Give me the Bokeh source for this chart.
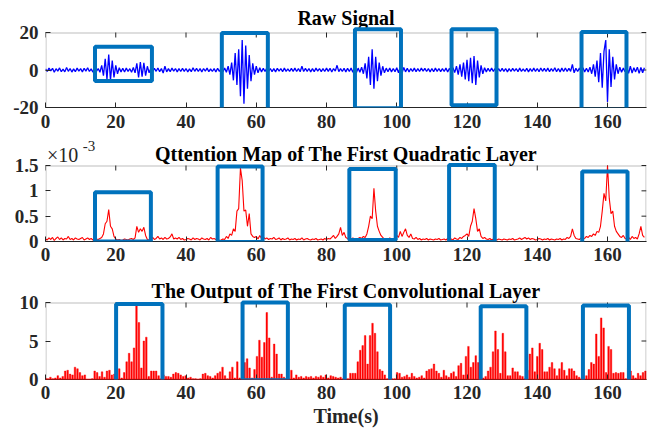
import numpy as np
from bokeh.plotting import figure
from bokeh.layouts import column
from bokeh.models import Range1d, FixedTicker, Label, Span, BoxAnnotation
from bokeh.embed import file_html
from bokeh.resources import INLINE

# ---------------- data ----------------
RAW_DT = 0.5   # s between raw samples
raw_signal = [
    0.6, -0.8, 1.0, -0.5, 0.9, -1.2, 0.7, -0.6, 1.1, -0.9, 0.5, -1.0, 1.3, -0.7, 0.8, -1.1, 0.6, -0.9, 1.0, -0.6,
    0.7, -1.0, 0.9, -0.6, 1.2, -0.8, 0.6, -1.1, 0.9, -0.7, 0.8, -1.2, 2.5, -3.0, 6.0, -5.0, 8.2, -5.5, 5.0, -4.0,
    2.5, -2.0, 1.2, -1.0, 0.9, -1.1, 1.0, -0.8, 0.7, -1.2, 1.3, -1.5, 3.5, -4.0, 4.2, -3.5, 3.8, -3.0, 2.0, -1.5,
    1.0, -0.8, 0.9, -0.7, 1.1, -0.9, 0.8, -1.6, 2.0, -1.0, 0.7, -0.9, 1.0, -0.6, 0.8, -1.0, 0.7, -0.8, 0.9, -0.7,
    0.8, -1.0, 0.6, -0.9, 1.2, -0.7, 0.9, -0.8, 0.7, -1.0, 0.8, -0.6, 1.0, -0.9, 0.6, -0.8, 0.7, -1.0, 0.9, -0.7,
    0.8, -0.9, 1.0, -1.2, 2.0, -2.5, 4.0, -5.5, 9.0, -8.0, 11.0, -14.0, 16.0, -18.0, 13.0, -10.0, 8.0, -6.0, 3.5, -2.5,
    2.0, -1.5, 1.2, -1.0, 0.9, -0.8, 1.0, -0.7, 0.8, -0.9, 0.7, -1.0, 0.9, -0.6, 0.8, -0.9, 1.0, -0.7, 0.6, -0.8,
    0.9, -0.7, 1.0, -0.8, 0.7, -0.9, 2.0, -0.8, 0.9, -0.7, 0.8, -1.0, 0.7, -0.9, 1.0, -0.6, 0.8, -0.9, 0.7, -0.8,
    1.0, -0.7, 0.9, -1.1, 0.8, -0.6, 2.5, -0.9, 0.7, -0.8, 0.9, -1.0, 0.9, -0.8, 1.0, -1.2, 1.3, -1.5, 1.0, -1.2,
    1.5, -2.0, 3.5, -4.5, 7.0, -8.0, 11.0, -10.0, 7.0, -6.0, 4.0, -3.0, 2.0, -1.5, 1.0, -0.9, 1.1, -1.0, 0.8, -0.9,
    1.2, -1.5, 1.8, -1.6, 1.3, -1.0, 0.9, -1.1, 0.8, -0.7, 1.0, -0.9, 0.7, -0.8, 1.0, -0.6, 0.9, -0.8, 0.7, -1.0,
    0.8, -0.9, 1.0, -0.7, 0.8, -0.9, 0.7, -0.8, 1.0, -1.1, 0.9, -1.0, 1.2, -1.4, 2.0, -2.5, 3.0, -3.5, 4.0, -5.0,
    5.5, -6.0, 6.5, -7.0, 7.5, -8.0, 5.0, -4.0, 2.5, -2.0, 1.2, -1.0, 0.9, -0.8, 1.0, -0.7, 0.8, -0.9, 0.7, -0.8,
    0.9, -0.7, 0.8, -1.0, 0.7, -0.8, 0.9, -0.6, 0.8, -0.9, 1.0, -0.7, 0.6, -0.8, 0.9, -1.0, 0.7, -0.8, 1.0, -0.7,
    0.8, -0.9, 1.1, -0.7, 0.9, -0.8, 1.0, -0.9, 0.8, -0.7, 1.2, -0.9, 0.8, -1.0, 1.0, -0.8, 1.1, -0.8, 0.9, -0.7,
    3.0, -1.5, 0.9, -0.8, 1.0, -0.7, 1.2, -1.0, 0.9, -1.1, 1.5, -2.0, 3.0, -3.5, 5.0, -6.5, 9.0, -9.5, 10.0, 16.0,
    -17.0, 11.0, -9.0, 7.0, -5.0, 3.0, -2.0, 1.5, -1.2, 1.0, -0.9, 1.4, -1.8, 2.0, -1.6, 1.2, -1.0, 1.5, -1.8, 1.3,
    -1.5, 1.2,
]

ATT_DT = 0.5   # s between attention samples, values in units of 1e-3
attention_e3 = [
    0.05, 0.03, 0.07, 0.04, 0.08, 0.02, 0.06, 0.09, 0.04, 0.07, 0.03, 0.06, 0.05, 0.10, 0.04, 0.06, 0.03, 0.07, 0.05, 0.04,
    0.06, 0.08, 0.03, 0.05, 0.07, 0.04, 0.06, 0.03, 0.08, 0.05, 0.04, 0.06, 0.08, 0.15, 0.35, 0.40, 0.63, 0.30, 0.25, 0.10,
    0.05, 0.03, 0.04, 0.02, 0.03, 0.05, 0.04, 0.03, 0.05, 0.06, 0.04, 0.07, 0.30, 0.18, 0.25, 0.20, 0.28, 0.12, 0.04, 0.03,
    0.05, 0.08, 0.04, 0.06, 0.10, 0.05, 0.07, 0.04, 0.08, 0.05, 0.06, 0.09, 0.15, 0.05, 0.07, 0.05, 0.08, 0.04, 0.06, 0.03,
    0.04, 0.06, 0.05, 0.03, 0.07, 0.04, 0.06, 0.05, 0.03, 0.07, 0.05, 0.04, 0.06, 0.03, 0.08, 0.05, 0.06, 0.04, 0.05, 0.02,
    0.03, 0.05, 0.04, 0.10, 0.06, 0.15, 0.12, 0.25, 0.20, 0.60, 0.65, 1.45, 1.20, 0.60, 0.62, 0.30, 0.55, 0.15, 0.10, 0.08,
    0.10, 0.05, 0.12, 0.06, 0.09, 0.05, 0.07, 0.04, 0.06, 0.05, 0.08, 0.04, 0.05, 0.07, 0.03, 0.06, 0.04, 0.05, 0.07, 0.03,
    0.05, 0.04, 0.06, 0.03, 0.05, 0.04, 0.07, 0.03, 0.05, 0.06, 0.04, 0.03, 0.05, 0.04, 0.06, 0.03, 0.04, 0.05, 0.03, 0.06,
    0.04, 0.06, 0.05, 0.08, 0.12, 0.06, 0.10, 0.15, 0.28, 0.12, 0.18, 0.08, 0.06, 0.05, 0.04, 0.07, 0.05, 0.04, 0.06, 0.08,
    0.06, 0.10, 0.08, 0.15, 0.30, 0.50, 0.45, 1.05, 0.60, 0.30, 0.20, 0.12, 0.08, 0.05, 0.06, 0.04, 0.07, 0.05, 0.04, 0.06,
    0.12, 0.08, 0.20, 0.10, 0.18, 0.25, 0.12, 0.08, 0.15, 0.06, 0.05, 0.08, 0.04, 0.06, 0.03, 0.05, 0.04, 0.06, 0.03, 0.05,
    0.04, 0.03, 0.05, 0.04, 0.06, 0.03, 0.04, 0.05, 0.03, 0.06, 0.04, 0.05, 0.03, 0.07, 0.05, 0.04, 0.08, 0.06, 0.10, 0.12,
    0.15, 0.10, 0.30, 0.40, 0.65, 0.45, 0.20, 0.25, 0.10, 0.06, 0.08, 0.05, 0.04, 0.06, 0.03, 0.05, 0.04, 0.03, 0.05, 0.04,
    0.03, 0.05, 0.04, 0.03, 0.05, 0.04, 0.06, 0.03, 0.04, 0.05, 0.07, 0.04, 0.06, 0.08, 0.05, 0.07, 0.04, 0.06, 0.05, 0.03,
    0.04, 0.06, 0.05, 0.03, 0.05, 0.04, 0.06, 0.03, 0.05, 0.04, 0.03, 0.05, 0.04, 0.06, 0.03, 0.05, 0.04, 0.08, 0.06, 0.10,
    0.25, 0.12, 0.06, 0.05, 0.04, 0.07, 0.05, 0.06, 0.10, 0.08, 0.12, 0.10, 0.15, 0.12, 0.20, 0.18, 0.30, 0.60, 0.95, 0.80,
    1.50, 0.85, 0.55, 0.60, 0.30, 0.20, 0.15, 0.10, 0.08, 0.12, 0.06, 0.05, 0.08, 0.04, 0.10, 0.06, 0.08, 0.05, 0.15, 0.30,
    0.12, 0.08,
]

CONV_DT = 0.7  # s between convolution outputs
conv_output = [
    0.2, 0.1, 0.3, 0.1, 0.2, 0.5, 0.2, 0.4, 1.1, 1.2,
    0.7, 0.6, 1.6, 1.4, 0.9, 0.5, 0.6, 0.0, 0.0, 0.1,
    1.1, 0.9, 0.4, 1.0, 0.3, 1.1, 1.2, 0.6, 0.7, 0.1,
    1.4, 0.2, 0.9, 2.3, 3.4, 2.3, 4.1, 9.6, 7.4, 1.5,
    5.0, 5.5, 0.4, 1.1, 1.1, 1.1, 0.5, 0.1, 0.6, 0.4,
    0.4, 0.3, 0.7, 0.9, 0.8, 0.6, 0.4, 0.5, 0.2, 0.3,
    0.1, 0.1, 0.0, 0.1, 0.7, 0.8, 0.5, 0.4, 0.2, 0.5,
    0.8, 1.0, 1.6, 0.5, 0.1, 1.0, 1.6, 0.2, 2.3, 0.2,
    0.2, 2.2, 2.7, 1.5, 0.2, 1.3, 3.0, 5.1, 2.9, 4.8,
    8.7, 5.4, 0.3, 4.6, 3.3, 0.7, 0.7, 0.3, 0.1, 0.1,
    1.2, 0.2, 0.6, 0.3, 0.4, 0.2, 0.4, 0.3, 0.4, 0.2,
    0.4, 0.3, 0.5, 0.3, 0.6, 0.2, 0.5, 0.4, 0.3, 0.2,
    0.3, 0.1, 0.1, 0.1, 0.8, 0.8, 0.8, 2.3, 3.8, 4.4,
    5.7, 2.0, 5.7, 7.3, 6.0, 3.6, 1.3, 1.1, 0.6, 0.1,
    0.1, 0.1, 0.1, 0.9, 0.8, 0.3, 0.4, 0.6, 0.3, 0.8,
    0.4, 0.2, 0.3, 0.5, 0.2, 1.1, 1.3, 1.4, 2.0, 1.1,
    0.8, 0.3, 1.2, 0.5, 0.3, 0.8, 1.0, 0.4, 1.8, 2.1,
    0.6, 3.0, 4.3, 1.6, 2.2, 3.1, 2.2, 0.9, 0.2, 0.4,
    1.1, 1.6, 3.6, 6.3, 3.9, 0.8, 6.0, 3.6, 0.5, 0.5,
    1.5, 1.0, 1.0, 0.5, 0.4, 0.1, 1.2, 3.3, 4.1, 1.0,
    3.0, 4.7, 3.9, 1.0, 1.0, 1.6, 2.2, 1.4, 0.5, 1.4,
    2.2, 1.2, 0.5, 1.4, 1.4, 1.1, 0.5, 0.3, 0.1, 0.1,
    0.5, 1.3, 2.2, 2.0, 5.9, 3.0, 8.0, 6.7, 0.9, 4.3,
    3.9, 0.8, 0.9, 0.8, 0.9, 0.9, 0.1, 1.5, 1.1, 0.5,
    0.2, 0.8, 0.5, 0.9, 1.1,
]

x_ticks = [0, 20, 40, 60, 80, 100, 120, 140, 160]
raw_y_ticks = [-20, 0, 20]
raw_y_labels = ["-20", "0", "20"]
att_y_ticks = [0, 0.5, 1, 1.5]
att_y_labels = ["0", "0.5", "1", "1.5"]
conv_y_ticks = [0, 5, 10]
conv_y_labels = ["0", "5", "10"]

titles = ["Raw Signal",
          "Qttention Map of The First Quadratic Layer",
          "The Output of The First Convolutional Layer"]
x_label = "Time(s)"
att_multiplier = "×10"
att_exponent = "-3"

# highlighted regions (left, right, bottom, top) in data units of each panel
raw_box_left = [14.1, 50.2, 88.1, 115.6, 152.6]
raw_box_right = [30.3, 63.3, 101.2, 128.4, 165.4]
raw_box_bottom = [-5.9, -21.3, -20.4, -18.8, -21.0]
raw_box_top = [12.4, 19.7, 21.7, 21.7, 20.3]

att_box_left = [14.1, 49.0, 86.5, 114.9, 152.8]
att_box_right = [30.0, 61.8, 99.7, 127.9, 165.7]
att_box_bottom = [0.0, -0.01, 0.03, -0.01, -0.05]
att_box_top = [0.97, 1.48, 1.43, 1.51, 1.38]

conv_box_left = [20.1, 56.1, 85.2, 123.9, 153.0]
conv_box_right = [33.3, 69.0, 98.1, 136.9, 166.1]
conv_box_bottom = [-0.35, -0.1, -0.56, -0.56, -0.56]
conv_box_top = [9.8, 10.0, 9.7, 9.5, 9.6]

# ---------------- styling / layout ----------------
FONT = "Liberation Serif"
AX_COLOR = "#262626"
BOX_COLOR = "#0072BD"
X_MAX = 171.1
FRAME_W = 601
X_PER_PX = X_MAX / FRAME_W


def make_panel(y0, y1, yticks, ylabels, axes_px, ext_px, bottom_px, title, title_gap_px, tick_standoff):
    """Frame = axes box plus an extension above it (for title / labels)."""
    upp = (y1 - y0) / axes_px
    y_top = y1 + ext_px * upp
    p = figure(title=None, frame_width=FRAME_W, frame_height=axes_px + ext_px,
               x_range=Range1d(0, X_MAX), y_range=Range1d(y0, y_top),
               output_backend="svg", toolbar_location=None,
               min_border_left=45, min_border_right=8,
               min_border_top=0, min_border_bottom=bottom_px)
    p.grid.visible = False
    p.outline_line_color = None
    p.background_fill_color = "white"
    p.border_fill_color = "white"

    xa = p.xaxis[0]
    ya = p.yaxis[0]
    for ax in (xa, ya):
        ax.major_tick_line_color = AX_COLOR
        ax.major_tick_in = 5
        ax.major_tick_out = 0
        ax.minor_tick_line_color = None
        ax.major_label_text_font = FONT
        ax.major_label_text_font_style = "bold"
        ax.major_label_text_font_size = "19px"
        ax.major_label_text_color = AX_COLOR
    xa.axis_line_color = AX_COLOR
    xa.ticker = FixedTicker(ticks=x_ticks)
    xa.major_label_overrides = {t: str(t) for t in x_ticks}
    xa.major_label_standoff = tick_standoff
    ya.axis_line_color = None
    ya.ticker = FixedTicker(ticks=yticks)
    ya.major_label_overrides = {t: s for t, s in zip(yticks, ylabels)}
    ya.major_label_standoff = 7

    # axes box (inside the frame)
    p.add_layout(BoxAnnotation(left=0.5 * X_PER_PX, right=X_MAX - 0.5 * X_PER_PX,
                               bottom=y0, top=y1 - 0.5 * upp,
                               fill_color=None, fill_alpha=0,
                               line_color=AX_COLOR, line_width=1))
    # inward ticks on the top and right edges (MATLAB box style)
    p.segment(x0=x_ticks, x1=x_ticks, y0=[y1] * len(x_ticks),
              y1=[y1 - 5 * upp] * len(x_ticks), line_color=AX_COLOR, line_width=1)
    p.segment(x0=[X_MAX] * len(yticks), x1=[X_MAX - 5 * X_PER_PX] * len(yticks),
              y0=yticks, y1=yticks, line_color=AX_COLOR, line_width=1)

    p.add_layout(Label(x=X_MAX / 2, y=y1 + title_gap_px * upp, text=title,
                       text_align="center", text_baseline="alphabetic",
                       text_font=FONT, text_font_style="bold", text_font_size="20px",
                       text_color="black"))
    return p, upp


def add_boxes(p, lefts, rights, bottoms, tops):
    for l, r, b, t in zip(lefts, rights, bottoms, tops):
        p.add_layout(BoxAnnotation(left=l, right=r, bottom=b, top=t,
                                   fill_alpha=0, fill_color=None,
                                   line_color=BOX_COLOR, line_width=4, line_alpha=1))


# ---- panel 1 : raw signal   (page rows 0-137, axes 32-107)
p1, u1 = make_panel(-20, 20, raw_y_ticks, raw_y_labels, 75, 32, 30, titles[0], 14.8, 7)
raw_t = np.arange(len(raw_signal)) * RAW_DT
p1.line(raw_t, raw_signal, line_color="#0000FF", line_width=1.3)
add_boxes(p1, raw_box_left, raw_box_right, raw_box_bottom, raw_box_top)

# ---- panel 2 : attention map   (page rows 137-274, axes 165-241)
p2, u2 = make_panel(0, 1.5, att_y_ticks, att_y_labels, 76, 28, 33, titles[1], 12.0, 6)
att_t = np.arange(len(attention_e3)) * ATT_DT
p2.line(att_t, attention_e3, line_color="#FF0000", line_width=1.1)
add_boxes(p2, att_box_left, att_box_right, att_box_bottom, att_box_top)
p2.add_layout(Label(x=0.4, y=1.5 + 10.5 * u2, text=att_multiplier, text_font=FONT,
                    text_font_size="20px", text_color=AX_COLOR, text_baseline="alphabetic"))
p2.add_layout(Label(x=10.6, y=1.5 + 19.5 * u2, text=att_exponent, text_font=FONT,
                    text_font_size="15px", text_color=AX_COLOR, text_baseline="alphabetic"))

# ---- panel 3 : convolution output   (page rows 274-431, axes 302-379)
p3, u3 = make_panel(0, 10, conv_y_ticks, conv_y_labels, 77, 28, 52, titles[2], 11.8, 6)
conv_t = np.arange(len(conv_output)) * CONV_DT
p3.vbar(x=conv_t, top=conv_output, bottom=0, width=0.45,
        fill_color="#FF0000", line_color="#FF0000", line_width=0.4)
p3.add_layout(Span(location=0, dimension="width", line_color="#FF0000", line_width=1.5))
add_boxes(p3, conv_box_left, conv_box_right, conv_box_bottom, conv_box_top)
xa3 = p3.xaxis[0]
xa3.axis_label = x_label
xa3.axis_label_text_font = FONT
xa3.axis_label_text_font_style = "bold"
xa3.axis_label_text_font_size = "20px"
xa3.axis_label_text_color = AX_COLOR
xa3.axis_label_standoff = 3

layout = column(p1, p2, p3, spacing=0)
open("out.html", "w").write(file_html(layout, INLINE))
